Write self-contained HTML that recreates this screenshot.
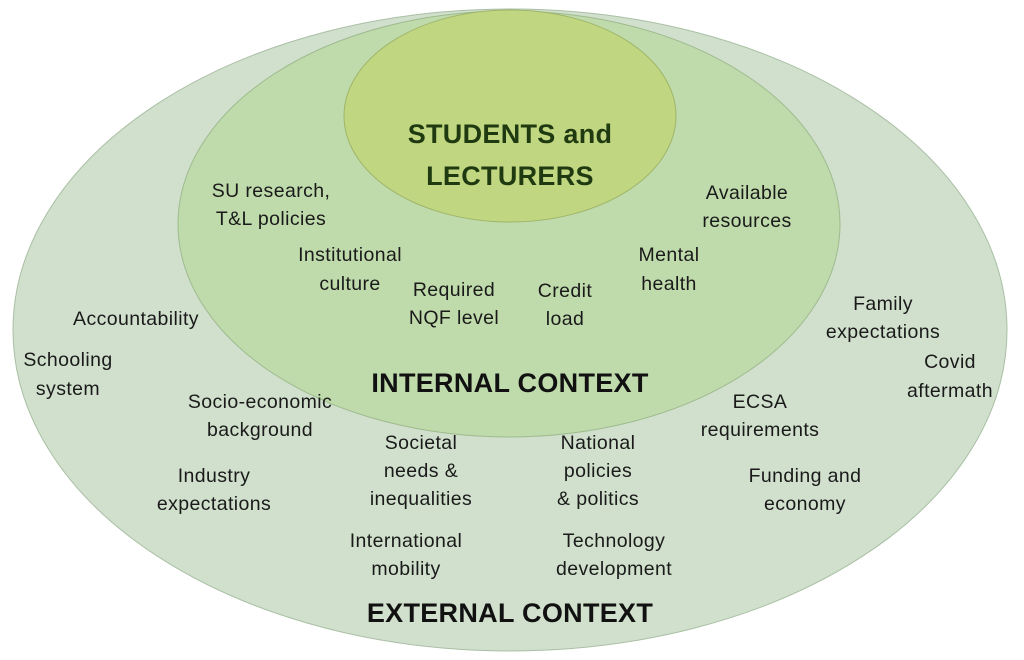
<!DOCTYPE html>
<html><head><meta charset="utf-8"><style>
html,body{margin:0;padding:0;background:#fff;}
svg{display:block}
text{font-family:"Liberation Sans",sans-serif;font-size:19.5px;letter-spacing:0.4px;fill:#1a1a1a;text-anchor:middle}
.b{font-weight:bold;font-size:27px;letter-spacing:0.3px;fill:#111}
.s{font-weight:bold;font-size:27px;letter-spacing:0.3px;fill:#1f3a10}
</style></head><body>
<svg width="1024" height="660" viewBox="0 0 1024 660">
<ellipse cx="510" cy="330" rx="497" ry="321" fill="#d0e0cc" stroke="#a9bfa4" stroke-width="1"/>
<ellipse cx="509" cy="224" rx="331" ry="213" fill="#bfdbab" stroke="#9fba8f" stroke-width="1"/>
<ellipse cx="510" cy="116" rx="166" ry="106" fill="#c0d680" stroke="#9fb56a" stroke-width="1"/>
<text class="s" x="510" y="143">STUDENTS and</text>
<text class="s" x="510" y="185">LECTURERS</text>
<text class="b" x="510" y="392">INTERNAL CONTEXT</text>
<text class="b" x="510" y="622">EXTERNAL CONTEXT</text>
<text x="271" y="197">SU research,</text><text x="271" y="225">T&amp;L policies</text>
<text x="747" y="199">Available</text><text x="747" y="227">resources</text>
<text x="350" y="261">Institutional</text><text x="350" y="290">culture</text>
<text x="669" y="261">Mental</text><text x="669" y="290">health</text>
<text x="454" y="296">Required</text><text x="454" y="324">NQF level</text>
<text x="565" y="297">Credit</text><text x="565" y="325">load</text>
<text x="136" y="325">Accountability</text>
<text x="68" y="366">Schooling</text><text x="68" y="395">system</text>
<text x="883" y="310">Family</text><text x="883" y="338">expectations</text>
<text x="950" y="368">Covid</text><text x="950" y="397">aftermath</text>
<text x="260" y="408">Socio-economic</text><text x="260" y="436">background</text>
<text x="760" y="408">ECSA</text><text x="760" y="436">requirements</text>
<text x="421" y="449">Societal</text><text x="421" y="477">needs &amp;</text><text x="421" y="505">inequalities</text>
<text x="598" y="449">National</text><text x="598" y="477">policies</text><text x="598" y="505">&amp; politics</text>
<text x="214" y="482">Industry</text><text x="214" y="510">expectations</text>
<text x="805" y="482">Funding and</text><text x="805" y="510">economy</text>
<text x="406" y="547">International</text><text x="406" y="575">mobility</text>
<text x="614" y="547">Technology</text><text x="614" y="575">development</text>
</svg>
</body></html>
